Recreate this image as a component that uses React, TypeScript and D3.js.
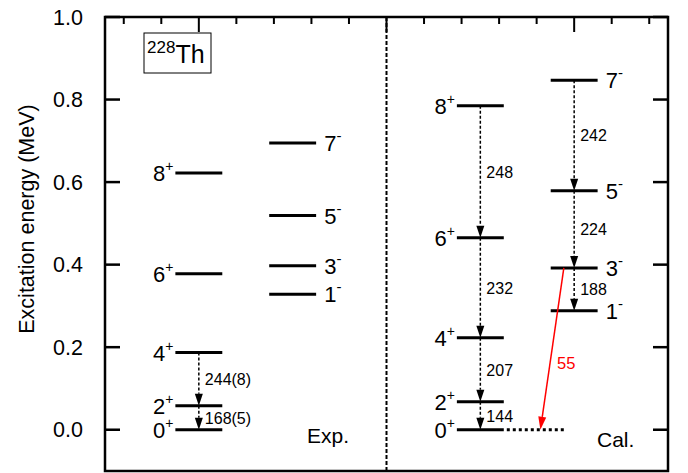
import React from "react"
import * as d3 from "d3"

// level energies (MeV)
const expGsbSpins = ["0", "2", "4", "6", "8"]
const expGsbE = [0, 0.058, 0.187, 0.378, 0.622]
const expNegSpins = ["1", "3", "5", "7"]
const expNegE = [0.328, 0.397, 0.519, 0.695]
const calGsbSpins = ["0", "2", "4", "6", "8"]
const calGsbE = [0, 0.068, 0.223, 0.465, 0.785]
const calNegSpins = ["1", "3", "5", "7"]
const calNegE = [0.288, 0.392, 0.579, 0.847]

// transitions: [from index, to index, label]
const expGsbTrans: [number, number, string][] = [[2, 1, "244(8)"], [1, 0, "168(5)"]]
const calGsbTrans: [number, number, string][] = [[4, 3, "248"], [3, 2, "232"], [2, 1, "207"], [1, 0, "144"]]
const calNegTrans: [number, number, string][] = [[3, 2, "242"], [2, 1, "224"], [1, 0, "188"]]
const e1Label = "55"

const yTicks = [0, 0.2, 0.4, 0.6, 0.8, 1.0]

const W = 688, H = 473
const font = "'Liberation Sans', Arial, sans-serif"

export default function App() {
    const x = d3.scaleLinear().domain([0.5, 3.5]).range([105, 668])
    const y = d3.scaleLinear().domain([-0.1, 1.0]).range([471, 17])
    const halfW = 0.125

    const minorX = d3.range(0.6, 3.45, 0.2).filter(v => Math.abs(v - Math.round(v)) > 0.05)
    const majorX = [1, 2, 3]

    const level = (cx: number, e: number, key: string) => (
        <line key={key} x1={x(cx - halfW)} x2={x(cx + halfW)} y1={y(e)} y2={y(e)}
            stroke="#000" strokeWidth={3} />
    )

    const leftLabel = (cx: number, e: number, spin: string, key: string) => (
        <text key={key} x={x(cx - halfW) - 2} y={y(e) + 8} textAnchor="end" fontSize={22}>
            {spin}<tspan fontSize={14} dy={-10}>+</tspan>
        </text>
    )
    const rightLabel = (cx: number, e: number, spin: string, key: string) => (
        <text key={key} x={x(cx + halfW) + 8} y={y(e) + 8} fontSize={22}>
            {spin}<tspan fontSize={15} dy={-10}>-</tspan>
        </text>
    )

    const arrow = (cx: number, e1: number, e2: number, label: string, key: string, color = "#000") => {
        const xs = x(cx)
        const y1 = y(e1), y2 = y(e2)
        const head = 12
        return (
            <g key={key}>
                <line x1={xs} x2={xs} y1={y1} y2={y2 - head} stroke={color} strokeWidth={1.5}
                    strokeDasharray="3,2" />
                <path d={`M${xs},${y2} L${xs - 4},${y2 - head} L${xs + 4},${y2 - head} Z`} fill={color} />
                <text x={xs + 6} y={(y1 + y2) / 2 + 6} fontSize={16}>{label}</text>
            </g>
        )
    }

    // red E1 transition from calc 3- to the extended 0+ line
    const rx1 = x(2.945), ry1 = y(calNegE[1])
    const rx2 = x(2.82), ry2 = y(0)
    const ang = Math.atan2(ry2 - ry1, rx2 - rx1)
    const hl = 13, hw = 4
    const bx = rx2 - hl * Math.cos(ang), by = ry2 - hl * Math.sin(ang)
    const px = -Math.sin(ang) * hw, py = Math.cos(ang) * hw
    const t = 0.59
    const lx = rx1 + (rx2 - rx1) * t + 7, ly = ry1 + (ry2 - ry1) * t + 6

    return (
        <svg width={W} height={H} style={{ position: "absolute", left: 0, top: 0 }}
            fontFamily={font}>
            <rect x={0} y={0} width={W} height={H} fill="#fff" />

            {/* y axis title */}
            <text transform={`translate(34, ${(y(1) + y(-0.1)) / 2 - 25}) rotate(-90)`}
                textAnchor="middle" fontSize={21.5}>Excitation energy (MeV)</text>

            {/* y tick labels and ticks */}
            {yTicks.map(v => (
                <g key={"yt" + v}>
                    <text x={83} y={y(v) + 7.5} textAnchor="end" fontSize={21.5}>{v.toFixed(1)}</text>
                    <line x1={x(0.5)} x2={x(0.5) + 15} y1={y(v)} y2={y(v)} stroke="#000" strokeWidth={2.5} />
                    <line x1={x(3.5)} x2={x(3.5) - 15} y1={y(v)} y2={y(v)} stroke="#000" strokeWidth={2.5} />
                </g>
            ))}

            {/* top ticks */}
            {minorX.map(v => (
                <line key={"mx" + v} x1={x(v)} x2={x(v)} y1={y(1)} y2={y(1) + 7} stroke="#000" strokeWidth={2} />
            ))}
            {majorX.map(v => (
                <line key={"Mx" + v} x1={x(v)} x2={x(v)} y1={y(1)} y2={y(1) + 15} stroke="#000" strokeWidth={2} />
            ))}

            {/* divider */}
            <line x1={x(2)} x2={x(2)} y1={y(1)} y2={y(-0.1)} stroke="#000" strokeWidth={2}
                strokeDasharray="4,2" />

            {/* nucleus box */}
            <rect x={144} y={33} width={67} height={40} fill="#fff" stroke="#000" strokeWidth={1} />
            <text x={147} y={63} fontSize={25}>
                <tspan fontSize={17} dy={-10}>228</tspan><tspan dy={10}>Th</tspan>
            </text>

            {/* experimental levels */}
            {expGsbE.map((e, i) => level(1, e, "eg" + i))}
            {expGsbE.map((e, i) => leftLabel(1, e, expGsbSpins[i], "egl" + i))}
            {expNegE.map((e, i) => level(1.5, e, "en" + i))}
            {expNegE.map((e, i) => rightLabel(1.5, e, expNegSpins[i], "enl" + i))}
            {expGsbTrans.map(([a, b, l], i) => arrow(1, expGsbE[a], expGsbE[b], l, "et" + i))}

            {/* calculated levels */}
            {calGsbE.map((e, i) => level(2.5, e, "cg" + i))}
            {calGsbE.map((e, i) => leftLabel(2.5, e, calGsbSpins[i], "cgl" + i))}
            {calNegE.map((e, i) => level(3, e, "cn" + i))}
            {calNegE.map((e, i) => rightLabel(3, e, calNegSpins[i], "cnl" + i))}
            {calGsbTrans.map(([a, b, l], i) => arrow(2.5, calGsbE[a], calGsbE[b], l, "cgt" + i))}
            {calNegTrans.map(([a, b, l], i) => arrow(3, calNegE[a], calNegE[b], l, "cnt" + i))}

            {/* dotted extension of 0+ */}
            <line x1={x(2.5 + halfW) + 3} x2={x(2.95)} y1={y(0)} y2={y(0)} stroke="#000"
                strokeWidth={3} strokeDasharray="3,3" />

            {/* E1 transition */}
            <line x1={rx1} y1={ry1} x2={bx} y2={by} stroke="#ff0000" strokeWidth={1.5} />
            <path d={`M${rx2},${ry2} L${bx + px},${by + py} L${bx - px},${by - py} Z`} fill="#ff0000" />
            <text x={lx} y={ly} fontSize={16.5} fill="#ff0000">{e1Label}</text>

            <text x={307} y={443} fontSize={21}>Exp.</text>
            <text x={597} y={447} fontSize={21}>Cal.</text>

            {/* frame */}
            <rect x={x(0.5)} y={y(1)} width={x(3.5) - x(0.5)} height={y(-0.1) - y(1)}
                fill="none" stroke="#000" strokeWidth={2.5} />
        </svg>
    )
}
